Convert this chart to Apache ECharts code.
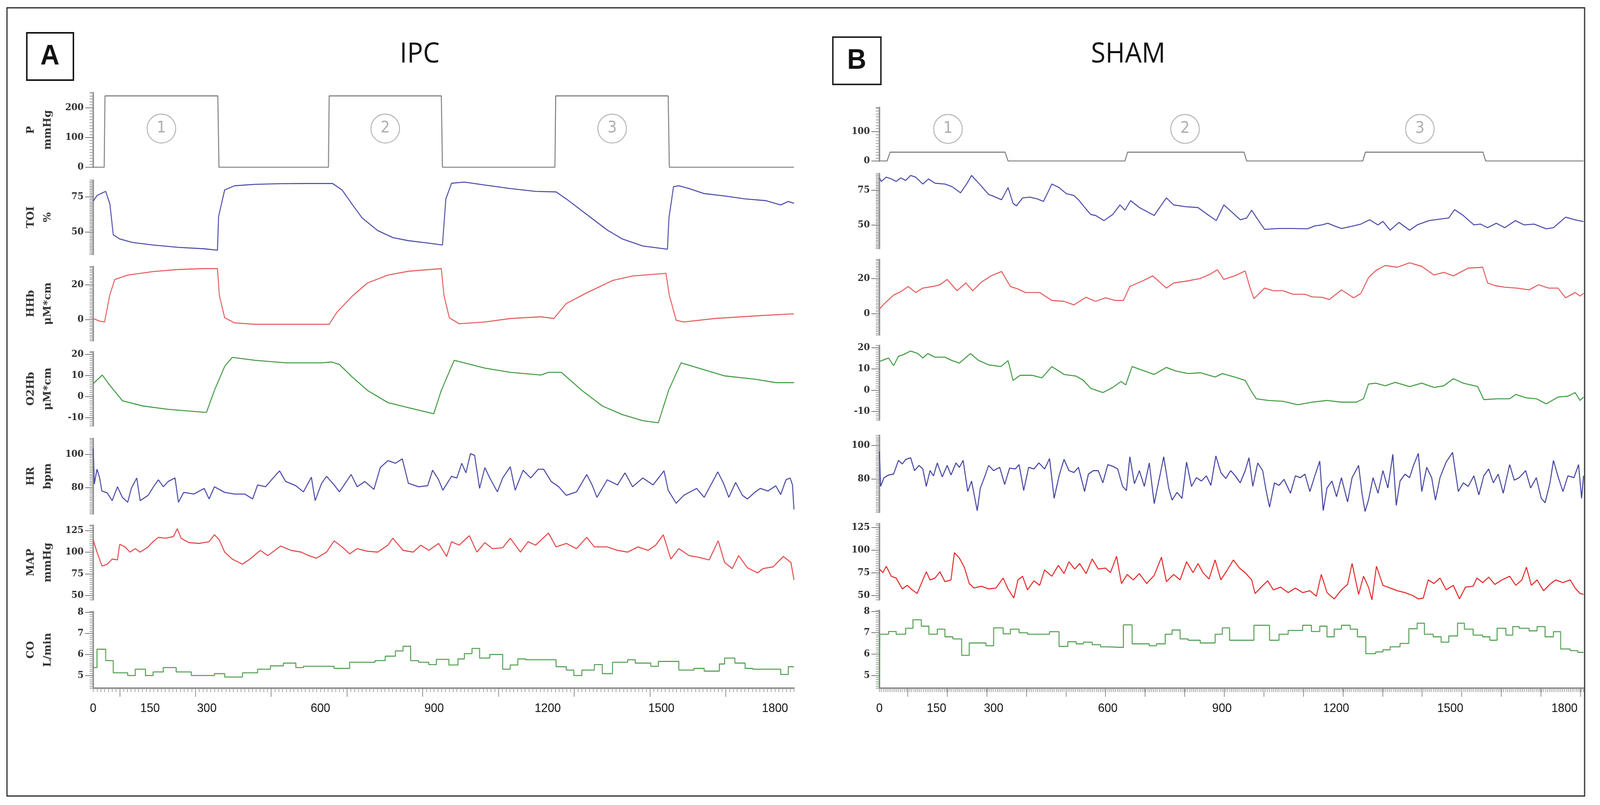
<!DOCTYPE html>
<html><head><meta charset="utf-8">
<script src="https://cdn.jsdelivr.net/npm/echarts@6/dist/echarts.min.js"></script>
<style>html,body{margin:0;padding:0;background:#fff;overflow:hidden}#c{width:4361px;height:2060px;transform-origin:0 0}</style>
</head><body><div id="c"></div>
<script>
// ---------- DATA (time in s, value) ----------
const xMax = 1850;
const xLabels = [0,150,300,600,900,1200,1500,1800];
const xLongTicksIPC = [70,270,470,670,870,1070,1270,1470,1670];
const xLongTicksSHAM = [74,178,282,386,490,594,698,802,906,1010,1114,1218,1322,1426,1530,1634,1738,1842];

const yNames = ['P\nmmHg','TOI\n%','HHb\nμM*cm','O2Hb\nμM*cm','HR\nbpm','MAP\nmmHg','CO\nL/min'];
const ticksP_IPC = [0,100,200];
const ticksP_SHAM = [0,100];
const ticksTOI = [50,75];
const ticksHHb = [0,20];
const ticksO2Hb = [-10,0,10,20];
const ticksHR = [80,100];
const ticksMAP = [50,75,100,125];
const ticksCO = [5,6,7,8];

const cycleLabels = ['1','2','3'];
const cycleX_IPC = [180,771,1370];
const cycleY_IPC = 130;
const cycleX_SHAM = [180,803,1420];
const cycleY_SHAM = 109;

const P_IPC = [[0,0],[29,0],[31,240],[329,240],[332,0],[621,0],[623,240],[919,240],[922,0],[1219,0],[1221,240],[1518,240],[1521,0],[1850,0]];
const TOI_IPC = [[0,72],[10,76],[33,79],[44,70],[53,48],[70,45],[104,42.5],[158,40.7],[225,39],[293,38],[328,37],[331,61],[347,80],[373,83],[427,84],[495,84.5],[562,84.6],[632,84.6],[657,80],[683,70],[710,60],[751,51],[791,46],[832,43.8],[886,42],[922,40.7],[931,73.6],[946,84.8],[980,85.6],[1034,83.5],[1101,81],[1168,79],[1222,78.6],[1249,73.6],[1303,62.5],[1357,51.4],[1397,45],[1451,40],[1516,37.7],[1520,60],[1532,82.3],[1546,83],[1573,81],[1613,77.4],[1667,75.7],[1721,73.6],[1775,72.4],[1815,69.3],[1835,71.8],[1850,70.5]];
const HHb_IPC = [[0,0.7],[17,-0.8],[30,-1.3],[44,14.3],[57,23],[91,25.5],[158,27.5],[225,28.7],[293,29.2],[328,29.2],[333,14],[347,1.2],[373,-1.8],[427,-2.6],[562,-2.6],[623,-2.6],[643,4.2],[683,13.3],[724,21],[778,25.5],[832,27.7],[919,29.2],[926,14],[940,1.2],[966,-2.3],[1034,-1.3],[1101,0.7],[1182,1.7],[1216,0.7],[1249,9.3],[1303,15.4],[1371,22.4],[1424,25],[1512,26.5],[1521,14],[1539,-0.3],[1559,-1.3],[1640,0.7],[1748,2.2],[1850,3.4]];
const O2Hb_IPC = [[0,6.1],[24,10.2],[44,5.3],[77,-2],[131,-4.5],[198,-6.1],[299,-7.6],[320,2.9],[347,14.3],[367,18.6],[427,17.2],[508,16],[603,16],[630,16.4],[650,15.2],[683,9.4],[724,2.9],[778,-2.9],[832,-5.3],[899,-8.2],[919,2.9],[953,17.2],[1034,13.5],[1101,11.5],[1182,10.2],[1202,11.5],[1236,11.5],[1290,2.9],[1344,-4.5],[1397,-8.6],[1451,-11.5],[1492,-12.5],[1519,2.9],[1552,16],[1613,12.7],[1667,9.8],[1748,8.2],[1802,6.6],[1850,6.6]];
const HR_IPC = [[0,103.6],[3,82],[10,91],[17,85.7],[23,77.8],[37,76.7],[50,72],[64,80.4],[77,74],[91,71],[101,79.6],[115,85.7],[124,72],[145,75.2],[158,80],[172,84.6],[185,80.4],[198,83.6],[216,85.7],[225,71],[239,77],[266,76],[293,79.4],[306,73],[320,80.4],[347,77],[373,76],[400,76],[421,73],[434,81.5],[455,80.4],[475,85.7],[492,90],[508,83.6],[535,81],[555,77.3],[576,86.2],[586,72],[603,82.5],[616,86.7],[636,81.5],[650,77.3],[681,87.8],[697,80.4],[717,83.6],[741,78.8],[758,92],[778,96.2],[798,94.6],[816,97.3],[832,82.5],[859,80.4],[883,81],[896,90.4],[912,84.6],[923,78.3],[946,86.7],[960,85.7],[973,94.6],[984,88.8],[996,100.4],[1007,99.4],[1020,79.4],[1034,92],[1047,85.7],[1067,77.3],[1081,85.7],[1101,92.5],[1114,78.3],[1135,90.4],[1155,85.7],[1175,91],[1189,91],[1209,83.6],[1229,80.4],[1249,75.2],[1276,77.3],[1303,87.8],[1317,81.5],[1330,74],[1357,84.6],[1384,81.5],[1404,88.8],[1424,80.4],[1451,85.7],[1478,81.5],[1507,90],[1518,78.3],[1539,70.4],[1559,75.2],[1593,79.4],[1613,74],[1633,82.5],[1649,89.4],[1664,82.5],[1678,74],[1696,83],[1714,75.2],[1727,73],[1748,77.3],[1761,79.4],[1781,77.8],[1802,81],[1815,75.7],[1829,84.6],[1840,85.7],[1846,81.5],[1850,66.7]];
const MAP_IPC = [[0,114],[10,100],[23,84],[37,86],[50,92],[64,91],[70,109],[84,106],[97,100],[111,104],[124,100],[145,106],[158,112],[172,117],[192,116],[212,118],[222,127],[232,116],[252,111],[279,110],[306,112],[320,120],[333,114],[347,100],[367,92],[394,86],[414,92],[441,102],[461,96],[495,107],[522,102],[549,100],[569,96],[589,93],[616,100],[636,113],[657,106],[677,98],[697,104],[724,101],[751,100],[778,108],[791,116],[818,102],[845,100],[865,108],[886,102],[912,110],[933,95],[946,112],[966,108],[993,119],[1013,100],[1034,111],[1054,104],[1081,105],[1101,116],[1128,100],[1148,112],[1168,108],[1202,122],[1222,106],[1249,110],[1276,104],[1303,117],[1323,106],[1357,106],[1384,102],[1411,100],[1438,106],[1465,102],[1485,108],[1505,120],[1525,92],[1546,104],[1573,96],[1599,94],[1626,91],[1650,113],[1667,88],[1687,81],[1704,96],[1727,82],[1754,76],[1768,81],[1795,83],[1822,95],[1842,88],[1850,68]];
const CO_IPC = [[0,5.38],[10,6.25],[33,5.71],[53,5.13],[91,5.0],[111,5.3],[138,5.0],[158,5.17],[185,5.38],[219,5.17],[259,5.0],[320,5.09],[347,4.93],[394,5.13],[434,5.3],[468,5.46],[502,5.59],[535,5.38],[555,5.44],[636,5.34],[677,5.63],[744,5.71],[771,5.92],[798,6.17],[818,6.39],[838,5.71],[859,5.63],[886,5.52],[906,5.77],[939,5.5],[963,5.79],[980,6.04],[1000,6.29],[1020,5.83],[1047,6.0],[1081,5.3],[1101,5.5],[1121,5.79],[1141,5.75],[1222,5.42],[1249,5.26],[1269,5.0],[1290,5.26],[1323,5.52],[1344,5.09],[1371,5.63],[1411,5.75],[1431,5.59],[1472,5.44],[1492,5.67],[1546,5.26],[1586,5.34],[1613,5.21],[1653,5.55],[1667,5.83],[1694,5.59],[1721,5.34],[1741,5.3],[1815,5.05],[1835,5.42],[1850,5.42]];

const P_SHAM = [[0,0],[20,0],[28,30],[330,30],[338,0],[645,0],[652,30],[958,30],[965,0],[1270,0],[1277,30],[1586,30],[1593,0],[1850,0]];
const TOI_SHAM = [[0,83.8],[5,81.3],[18,84.4],[31,83.1],[44,81.3],[56,83.8],[69,82],[82,85.6],[95,84.4],[114,79.4],[129,83.1],[146,80],[172,79.4],[191,77.5],[213,73.1],[229,79.4],[242,85.6],[261,80],[287,71.9],[300,70.6],[321,68.1],[338,76.9],[351,65.6],[360,63.7],[376,69.4],[395,70],[415,68.7],[431,66.9],[453,79.4],[472,76.9],[491,72.5],[511,71.2],[523,68.1],[536,63.7],[555,57.5],[568,56.8],[590,53.1],[613,57.5],[632,64.4],[645,60.6],[660,67.5],[683,62.5],[696,60.6],[722,56.8],[741,64.4],[754,69.4],[773,64.4],[805,63.1],[837,62.5],[862,57.5],[885,53.1],[905,64.4],[923,60],[948,53.7],[965,55],[978,60.6],[990,55.6],[1012,46.8],[1048,47.4],[1086,47.4],[1125,47.2],[1144,49.3],[1163,50],[1178,51.2],[1195,49.3],[1214,47.4],[1246,49.3],[1265,50.6],[1288,53.7],[1310,50],[1323,52.5],[1342,46.2],[1365,51.8],[1393,46.2],[1413,50],[1444,53.1],[1476,54.3],[1496,55],[1511,61],[1534,56.8],[1562,50],[1579,50.6],[1598,48],[1621,51.2],[1643,48],[1671,53.1],[1694,50],[1720,50.6],[1752,47.2],[1771,48],[1803,55.6],[1828,53.7],[1850,52.4]];
const HHb_SHAM = [[0,2.6],[12,5.5],[37,10.5],[56,12.5],[76,15.4],[95,12],[114,14.5],[140,15.4],[159,16.4],[178,19.4],[204,13],[227,17.4],[245,13],[268,17.9],[293,21.4],[321,23.9],[344,15.4],[364,14],[383,12],[421,12],[453,7.5],[485,7],[511,5],[543,9.3],[568,7],[594,9],[619,7.5],[641,7.5],[658,15.4],[690,18.4],[718,21.4],[754,14.5],[773,17.4],[805,18.4],[843,19.9],[869,22.4],[888,24.9],[905,19.4],[933,21.4],[961,24.2],[974,14.5],[984,8.5],[1012,14.5],[1035,13],[1061,13],[1086,11],[1118,11],[1137,9.5],[1163,9.3],[1182,8],[1214,13.5],[1246,9],[1265,11.5],[1285,20.4],[1304,24.4],[1329,27.3],[1361,26.3],[1393,28.8],[1425,26.8],[1457,21.9],[1483,23.4],[1508,21.4],[1547,25.8],[1585,26.3],[1598,17.4],[1617,15.9],[1643,15],[1675,14.5],[1707,13.5],[1732,16.4],[1758,14.5],[1783,14.5],[1803,9],[1828,12],[1841,10],[1850,11.5]];
const O2Hb_SHAM = [[0,13.5],[12,14.3],[24,15.1],[37,11.5],[50,15.9],[63,16.7],[82,18.4],[101,17.2],[114,15.1],[127,17.2],[146,15.5],[172,15.5],[191,13.9],[210,12.7],[239,17.2],[261,13.9],[287,11.9],[319,11.1],[338,13.9],[351,4.6],[370,7],[402,7],[427,5.8],[453,11.1],[485,7.4],[517,6.6],[536,4.6],[555,0.9],[587,-1.1],[613,1.3],[635,4.1],[647,2.5],[664,11.1],[690,9.4],[722,7.4],[754,10.7],[779,9],[811,7.8],[843,8.2],[882,6.2],[901,7.8],[933,6.2],[961,4.6],[978,-0.7],[990,-4],[1022,-4.8],[1061,-5.2],[1099,-6.8],[1137,-5.6],[1176,-4.8],[1214,-5.6],[1253,-5.6],[1272,-4],[1285,2.9],[1304,3.3],[1329,2.1],[1355,3.7],[1393,1.7],[1425,3.3],[1457,1.3],[1483,2.1],[1508,5.4],[1534,3.3],[1572,1.7],[1588,-4.4],[1623,-4],[1656,-4],[1672,-2],[1700,-3.6],[1726,-4],[1752,-6.4],[1783,-3.2],[1809,-2.8],[1828,-1.1],[1841,-4.8],[1850,-3.2]];
const HR_SHAM = [[0,96.3],[3,75.5],[12,80.7],[24,82.3],[37,82.8],[50,91],[60,88.9],[69,91.6],[82,92.6],[92,84.9],[104,88],[114,85.9],[123,75.5],[133,84.9],[142,81.8],[152,89.5],[165,81.2],[178,88],[188,82.3],[201,89.5],[210,86.9],[220,91],[232,72.4],[242,78.7],[257,61],[265,74.5],[274,79.7],[287,88],[300,84.9],[316,86.9],[329,76.6],[342,86.4],[357,85.9],[367,88.5],[379,73],[392,86.9],[406,85.9],[419,89.5],[434,85.9],[447,92.1],[459,68.3],[472,81.8],[485,91.6],[498,84.9],[511,83.8],[523,86.9],[539,72.4],[549,82.8],[562,84.9],[575,84.9],[587,77.6],[600,88.5],[613,87.5],[626,85.9],[639,75.5],[649,73],[658,93.2],[670,77.1],[683,84.9],[696,75.5],[709,89.5],[722,65.2],[734,78.7],[747,93.2],[760,74.5],[769,67.3],[782,71.9],[795,68.3],[807,90],[820,75.5],[833,80.7],[846,78.7],[859,81.8],[871,76.1],[884,93.7],[897,83.8],[910,80.2],[923,84.9],[935,81.8],[948,77.6],[961,84.9],[971,92.6],[981,75.5],[994,89.5],[1007,84.9],[1016,73],[1025,63.1],[1038,77.6],[1050,76.1],[1063,79.7],[1080,71.4],[1093,81.8],[1106,80.7],[1118,82.8],[1131,72.4],[1144,81.8],[1157,90.6],[1166,61],[1176,74.5],[1189,78.7],[1201,69.3],[1214,80.7],[1230,66.2],[1242,80.7],[1259,88],[1268,71.4],[1276,60.5],[1285,67.3],[1297,80.7],[1310,71.4],[1323,84.9],[1336,74.5],[1349,94.7],[1358,64.1],[1368,78.7],[1381,82.8],[1393,80.7],[1404,88.5],[1416,95.2],[1425,72.4],[1438,86.9],[1451,80.7],[1461,67.3],[1473,80.7],[1489,90],[1506,95.8],[1521,72.4],[1534,77.6],[1547,75.5],[1562,81.8],[1575,70.4],[1588,81.8],[1601,85.9],[1613,77.6],[1626,82.8],[1639,71.4],[1656,88.5],[1668,79.2],[1681,80.7],[1698,84.9],[1711,74.5],[1726,80.7],[1739,68.3],[1749,65.7],[1762,77.6],[1771,91],[1784,80.7],[1796,72.4],[1809,81.8],[1825,80.7],[1837,88.5],[1845,68.3],[1850,81.8]];
const MAP_SHAM = [[0,79],[9,75],[18,82],[31,71],[44,69],[60,57],[73,61],[86,56],[99,52],[114,67],[123,76],[133,67],[146,69],[159,76],[172,65],[188,67],[197,97],[210,91],[223,81],[236,63],[248,58],[268,60],[287,57],[306,58],[325,69],[338,57],[353,47],[364,67],[376,71],[389,56],[406,66],[421,61],[434,78],[453,71],[470,83],[485,74],[498,87],[513,79],[526,85],[543,74],[559,90],[575,79],[594,80],[607,75],[623,93],[636,63],[651,73],[667,67],[683,74],[702,63],[722,72],[741,92],[754,65],[773,73],[790,67],[807,87],[824,75],[837,85],[850,75],[866,68],[882,89],[897,67],[914,78],[930,89],[946,80],[961,75],[978,67],[987,52],[1003,59],[1020,66],[1035,56],[1054,59],[1074,53],[1093,58],[1112,53],[1131,55],[1148,49],[1161,73],[1176,53],[1195,46],[1214,56],[1230,62],[1242,85],[1259,51],[1272,71],[1285,59],[1294,45],[1306,82],[1323,61],[1342,58],[1361,55],[1381,53],[1400,50],[1416,46],[1429,47],[1442,67],[1457,63],[1473,69],[1489,56],[1508,61],[1524,46],[1540,59],[1560,60],[1570,69],[1585,64],[1601,70],[1617,62],[1636,67],[1656,71],[1672,61],[1688,67],[1700,81],[1713,61],[1728,67],[1745,55],[1764,63],[1777,67],[1796,64],[1815,67],[1828,58],[1841,52],[1850,51]];
const CO_SHAM = [[0,4.4],[1,6.93],[24,7.06],[44,6.93],[69,7.21],[88,7.61],[110,7.31],[130,6.93],[152,7.17],[172,6.81],[193,6.71],[216,5.94],[236,6.52],[280,6.39],[300,7.23],[325,6.95],[344,7.17],[367,7.0],[389,6.93],[447,7.05],[472,6.36],[495,6.58],[517,6.48],[536,6.56],[559,6.44],[581,6.34],[600,6.31],[641,7.37],[664,6.48],[709,6.39],[728,6.48],[751,6.93],[769,7.13],[790,6.71],[811,6.65],[843,6.52],[882,6.93],[901,7.23],[920,6.65],[984,7.35],[1025,6.65],[1050,6.93],[1074,7.11],[1112,7.35],[1135,7.06],[1157,7.31],[1176,6.81],[1195,7.17],[1214,7.35],[1237,7.17],[1256,6.81],[1278,6.02],[1304,6.1],[1323,6.2],[1342,6.34],[1368,6.5],[1391,7.19],[1413,7.45],[1432,6.93],[1455,6.81],[1476,6.56],[1496,6.85],[1519,7.45],[1537,7.17],[1560,6.89],[1585,6.81],[1604,6.65],[1623,7.21],[1646,6.89],[1664,7.29],[1681,7.21],[1707,7.09],[1728,7.29],[1749,6.81],[1771,7.05],[1790,6.24],[1815,6.16],[1835,6.08],[1850,6.08]];

// ---------- LAYOUT / STYLE ----------
const W = 4361, H = 2060;
const layoutL = {left:254, width:1910, tops:[237,461,682,900,1122,1344,1565], heights:[191,190,190,190,193,191,196]};
const layoutR = {left:2397, width:1919, tops:[275,444,664,884,1114,1340,1562], heights:[137,192,193,191,197,195,199]};

const specsL = [
  {min:0, max:251, step:10, ticks:ticksP_IPC, data:P_IPC, color:'#7c7c7c'},
  {min:34, max:87, step:1, ticks:ticksTOI, data:TOI_IPC, color:'#4a4aa8'},
  {min:-12, max:30.4, step:1, ticks:ticksHHb, data:HHb_IPC, color:'#e65a5a'},
  {min:-14, max:21.3, step:1, ticks:ticksO2Hb, data:O2Hb_IPC, color:'#3f9a3f'},
  {min:64, max:109.6, step:1, ticks:ticksHR, data:HR_IPC, color:'#4444a4'},
  {min:45, max:131, step:2.5, ticks:ticksMAP, data:MAP_IPC, color:'#e54444'},
  {min:4.4, max:8.04, step:0.1, ticks:ticksCO, data:CO_IPC, color:'#4e9e4e', step_:'end'}
];
const specsR = [
  {min:0, max:182, step:10, ticks:ticksP_SHAM, data:P_SHAM, color:'#7c7c7c'},
  {min:33, max:87, step:1, ticks:ticksTOI, data:TOI_SHAM, color:'#4a4aa8'},
  {min:-12, max:30.7, step:1, ticks:ticksHHb, data:HHb_SHAM, color:'#e65a5a'},
  {min:-14, max:21, step:1, ticks:ticksO2Hb, data:O2Hb_SHAM, color:'#3f9a3f'},
  {min:60, max:106, step:1, ticks:ticksHR, data:HR_SHAM, color:'#3e3e9e'},
  {min:45, max:129, step:2.5, ticks:ticksMAP, data:MAP_SHAM, color:'#e32222'},
  {min:4.4, max:8.05, step:0.1, ticks:ticksCO, data:CO_SHAM, color:'#4e9e4e', step_:'end'}
];

const grid=[], xAxis=[], yAxis=[], series=[];
const axisGray = '#8c8c8c';
const labelFont = {fontFamily:'DejaVu Serif', fontWeight:'bold', fontSize:24, color:'#2e2e2e'};

function addPanel(layout, specs, withNames, xStep, longTicks, cycX, cycY) {
  let firstY = -1, firstX = -1;
  specs.forEach((s, k) => {
    const gi = grid.length;
    grid.push({left:layout.left, top:layout.tops[k], width:layout.width, height:layout.heights[k], containLabel:false, outerBoundsMode:'none'});
    const isBottom = k === specs.length - 1;
    const xi = xAxis.length;
    xAxis.push({gridIndex:gi, type:'value', min:0, max:xMax, interval:xStep, show:isBottom, position:'bottom',
      axisLine:{show:true, onZero:false, lineStyle:{color:axisGray, width:4}},
      axisTick:{show:true, length:10, lineStyle:{color:'#a0a0a0', width:2}},
      axisLabel:{show:false}, splitLine:{show:false}});
    if (isBottom) {
      xAxis.push({gridIndex:gi, type:'value', min:0, max:xMax, position:'bottom',
        axisLine:{show:false, onZero:false},
        axisTick:{show:true, customValues:longTicks, length:22, lineStyle:{color:'#8a8a8a', width:2}},
        axisLabel:{show:true, customValues:xLabels, margin:36, fontFamily:'Liberation Sans', fontSize:32, color:'#111', formatter: v => String(v)},
        splitLine:{show:false}});
    }
    const yi = yAxis.length;
    yAxis.push({gridIndex:gi, type:'value', min:s.min, max:s.max, interval:s.step, position:'left',
      axisLine:{show:true, onZero:false, lineStyle:{color:axisGray, width:4}},
      axisTick:{show:true, length:10, lineStyle:{color:'#a0a0a0', width:2}},
      axisLabel:{show:false}, splitLine:{show:false},
      name: withNames ? yNames[k] : '', nameLocation:'middle', nameRotate:90, nameGap:100,
      nameTextStyle:{fontFamily:'DejaVu Serif', fontWeight:'bold', fontSize:27, lineHeight:46, color:'#333'}});
    yAxis.push({gridIndex:gi, type:'value', min:s.min, max:s.max, position:'left',
      axisLine:{show:false, onZero:false},
      axisTick:{show:true, customValues:s.ticks, length:22, lineStyle:{color:'#7a7a7a', width:2}},
      axisLabel:Object.assign({show:true, customValues:s.ticks, margin:26, formatter: v => String(v)}, labelFont),
      splitLine:{show:false}});
    const ser = {type:'line', xAxisIndex:xi, yAxisIndex:yi, data:s.data, showSymbol:false, symbol:'none',
      lineStyle:{color:s.color, width:2.6}, itemStyle:{color:s.color}, emphasis:{disabled:true}, silent:true, animation:false};
    if (s.step_) ser.step = s.step_;
    series.push(ser);
    if (k === 0) { firstX = xi; firstY = yi; }
  });
  series.push({type:'scatter', xAxisIndex:firstX, yAxisIndex:firstY, silent:true, animation:false,
    data: cycX.map(x => [x, cycY]), symbol:'circle', symbolSize:[78,74],
    itemStyle:{color:'rgba(0,0,0,0)', borderColor:'#a0a0a0', borderWidth:2.5},
    label:{show:true, position:'inside', formatter:p => cycleLabels[p.dataIndex], fontFamily:'DejaVu Sans', fontSize:40, color:'#9a9a9a'}});
}

addPanel(layoutL, specsL, true, 10, xLongTicksIPC, cycleX_IPC, cycleY_IPC);
addPanel(layoutR, specsR, false, 5, xLongTicksSHAM, cycleX_SHAM, cycleY_SHAM);

const graphic = [
  {type:'rect', shape:{x:19, y:20, width:4300, height:2017}, style:{fill:'none', stroke:'#222', lineWidth:3}, silent:true},
  {type:'rect', shape:{x:73, y:84, width:127, height:121}, style:{fill:'none', stroke:'#111', lineWidth:4}, silent:true},
  {type:'text', style:{text:'A', x:136, y:145, align:'center', verticalAlign:'middle', font:'bold 72px "Liberation Sans"', fill:'#111'}, silent:true},
  {type:'rect', shape:{x:2270, y:95, width:131, height:121}, style:{fill:'none', stroke:'#222', lineWidth:4}, silent:true},
  {type:'text', style:{text:'B', x:2335, y:156, align:'center', verticalAlign:'middle', font:'bold 72px "Liberation Sans"', fill:'#111'}, silent:true},
  {type:'text', style:{text:'IPC', x:1144, y:139, align:'center', verticalAlign:'middle', font:'72px "Open Sans"', fill:'#111'}, silent:true},
  {type:'text', style:{text:'SHAM', x:3075, y:139, align:'center', verticalAlign:'middle', font:'72px "Open Sans"', fill:'#111'}, silent:true}
];

// fill the 4361x2060 design into the viewport actually available
const el = document.getElementById('c');
const vw = document.documentElement.clientWidth || window.innerWidth || W;
const vh = document.documentElement.clientHeight || window.innerHeight || H;
const sx = vw / W, sy = vh / H;
if (Math.abs(sx - 1) > 0.001 || Math.abs(sy - 1) > 0.001) el.style.transform = 'scale(' + sx + ',' + sy + ')';
const chart = echarts.init(el, null, {renderer:'canvas', width:W, height:H});
chart.setOption({backgroundColor:'#fff', animation:false, grid, xAxis, yAxis, series, graphic});
</script></body></html>
